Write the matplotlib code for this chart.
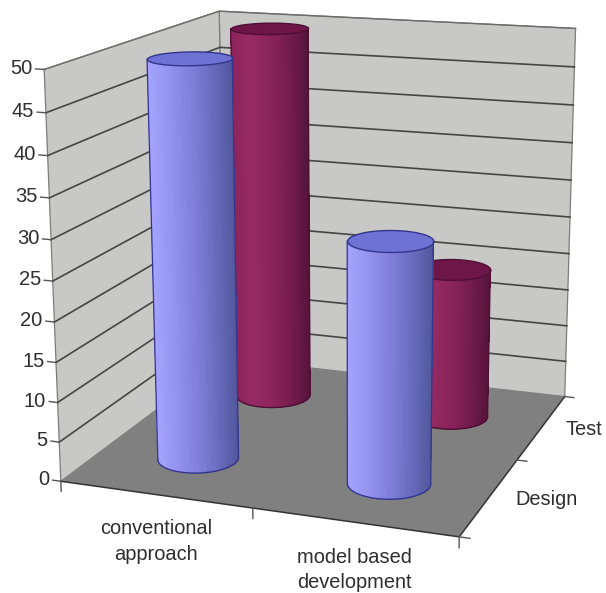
import numpy as np
import matplotlib
matplotlib.use("Agg")
import matplotlib.pyplot as plt
from mpl_toolkits.mplot3d import proj3d
from mpl_toolkits.mplot3d.art3d import Poly3DCollection

categories = ["conventional\napproach", "model based\ndevelopment"]
series_names = ["Design", "Test"]
design_values = [50, 30]
test_values = [50, 20]
z_ticks = [0, 5, 10, 15, 20, 25, 30, 35, 40, 45, 50]

plt.rcParams['font.family'] = ['Liberation Sans', 'DejaVu Sans']

W, H = 606, 593
fig = plt.figure(figsize=(W / 100, H / 100), dpi=100)
S = 677.2
ax = fig.add_axes([-20.8 / W, -1.9 / H, S / W, S / H], projection='3d', computed_zorder=False)
ax.set_xlim(0, 2, view_margin=0)
ax.set_ylim(0, 2, view_margin=0)
ax.set_zlim(0, 50, view_margin=0)
ax.view_init(14.78, -69.854, 0.19)
ax.set_proj_type('persp', focal_length=0.534)
ax.set_box_aspect((1, 1.015, 1.004))
ax.set_xticks([])
ax.set_yticks([])
ax.set_zticks([])
ax.set_axis_off()
M = ax.get_proj()

wall_col = '#c8c8c6'
floor_col = '#808080'
edge_col = '#7c7c7c'
grid_col = '#454545'
tick_col = '#555555'
text_col = '#2e2e2e'


def label(x, y, z, s, **kw):
    # place a label at a projected chart position
    u, v, _ = proj3d.proj_transform(x, y, z, M)
    ax.text2D(u, v, s, transform=ax.transData, color=text_col, **kw)


# walls and floor
walls = [
    [(0, 0, 0), (0, 2, 0), (0, 2, 50), (0, 0, 50)],
    [(0, 2, 0), (2, 2, 0), (2, 2, 50), (0, 2, 50)],
]
ax.add_collection3d(Poly3DCollection(walls, facecolors=wall_col, edgecolors=edge_col, linewidths=0.9, zorder=1))
floor = [[(0, 0, 0), (2, 0, 0), (2, 2, 0), (0, 2, 0)]]
ax.add_collection3d(Poly3DCollection(floor, facecolors=floor_col, edgecolors='none', zorder=3))

for z in z_ticks[1:-1]:
    ax.plot([0, 0, 2], [0, 2, 2], [z, z, z], color=grid_col, lw=1.2, zorder=2)
ax.plot([0, 0, 2], [0, 2, 2], [50, 50, 50], color='#6c6c6c', lw=1.0, zorder=2)

# small white ring showing behind the first blue cylinder
ring = np.linspace(0, 2 * np.pi, 60)
ring_pts = [(0.03 + 0.09 * np.cos(a), 1.9 + 0.09 * np.sin(a), 43.6) for a in ring]
ax.add_collection3d(Poly3DCollection([ring_pts], facecolors='#f4f4f2', edgecolors='#555555', linewidths=0.8, zorder=2.5))

# front edges of the floor
ax.plot([0, 2, 2], [0, 0, 2], [0, 0, 0], color='#333333', lw=1.1, zorder=4)

# ticks
for z in z_ticks:
    ax.plot([-0.045, 0], [0, 0], [z, z], color=tick_col, lw=1.0, zorder=4)
    label(-0.062, 0, z, str(z), ha='right', va='center', fontsize=14.5)
for x in [0, 1, 2]:
    ax.plot([x, x], [0, 0], [0, -1.3], color=tick_col, lw=1.0, zorder=4)
for y in [0, 1, 2]:
    ax.plot([2, 2.05], [y, y], [0, 0], color=tick_col, lw=1.0, zorder=4)

for i, name in enumerate(categories):
    label(i + 0.5, 0, -3.15, name, ha='center', va='top', fontsize=14.4, linespacing=1.42)
for i, name in enumerate(series_names):
    label(2.125, i + 0.5, 0, name, ha='left', va='center', fontsize=14.4)

radius = 0.2


def shade(stops, t):
    pos = np.linspace(0, 1, len(stops))
    return np.array([np.interp(t, pos, [s[c] for s in stops]) for c in range(3)]) / 255


def cylinder(cx, cy, h, stops, cap, rim, order):
    around = np.linspace(0, 2 * np.pi, 361)
    u = np.array(proj3d.proj_transform(cx + radius * np.cos(around), cy + radius * np.sin(around), 0 * around, M)[0])
    left = around[np.argmin(u)]
    right = around[np.argmax(u)]
    if right < left:
        right += 2 * np.pi
    # front half of the wall only, left silhouette round to the right one
    front = np.linspace(left, right, 37)
    xs = cx + radius * np.cos(front)
    ys = cy + radius * np.sin(front)
    X = np.array([xs, xs])
    Y = np.array([ys, ys])
    Z = np.array([np.zeros_like(xs), np.full_like(xs, h)])
    un = np.array(proj3d.proj_transform(xs, ys, 0 * xs, M)[0])
    t = (un - un.min()) / (un.max() - un.min())
    cols = np.zeros((1, len(xs) - 1, 4))
    for j in range(len(xs) - 1):
        cols[0, j, :3] = shade(stops, (t[j] + t[j + 1]) / 2)
        cols[0, j, 3] = 1
    ax.plot_surface(X, Y, Z, facecolors=cols, rstride=1, cstride=1, shade=False,
                    linewidth=0.3, edgecolor='none', antialiased=False, zorder=order)
    # top cap
    circle = [(cx + radius * np.cos(a), cy + radius * np.sin(a), h) for a in around]
    ax.add_collection3d(Poly3DCollection([circle], facecolors=cap, edgecolors=rim, linewidths=1.0, zorder=order + 0.1))
    # outline
    ax.plot(xs, ys, 0 * xs, color=rim, lw=1.0, zorder=order + 0.1)
    ax.plot([xs[0], xs[0]], [ys[0], ys[0]], [0, h], color=rim, lw=0.9, zorder=order + 0.1)
    ax.plot([xs[-1], xs[-1]], [ys[-1], ys[-1]], [0, h], color=rim, lw=0.9, zorder=order + 0.1)


blue_stops = [(165, 165, 255), (148, 148, 240), (128, 128, 218), (105, 108, 190), (80, 86, 155)]
red_stops = [(140, 36, 92), (152, 42, 100), (138, 36, 90), (115, 28, 76), (84, 20, 58)]

for i in range(2):
    cylinder(i + 0.5, 1.5, test_values[i], red_stops, '#6e1648', '#4e0f34', 5)
for i in range(2):
    cylinder(i + 0.5, 0.5, design_values[i], blue_stops, '#6e72d4', '#33358c', 6)

fig.savefig("out.png", dpi=100)
